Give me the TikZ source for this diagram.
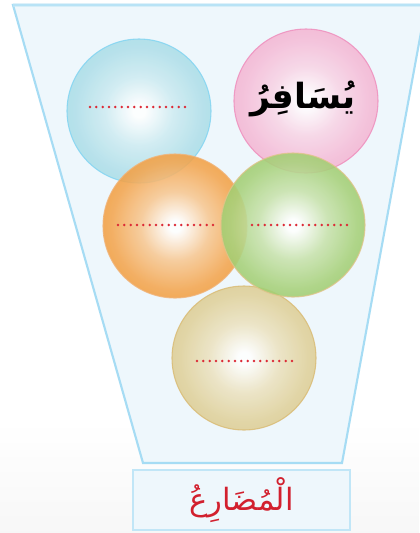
\documentclass[tikz,border=0pt]{standalone}
\usepackage{fontspec}
\newfontfamily\arabicfont[Script=Arabic]{DejaVu Sans}
\TeXXeTstate=1
\definecolor{ballc}{HTML}{A8DCE6}
\pgfdeclareradialshading[ballc]{ball}{\pgfpoint{0bp}{0bp}}{color(0bp)=(white); color(2bp)=(white); color(12bp)=(ballc!55!white); color(22bp)=(ballc!88!white); color(28bp)=(ballc); color(100bp)=(ballc)}
\definecolor{funfill}{HTML}{EEF7FC}
\definecolor{funedge}{HTML}{A6DCF4}
\definecolor{dotred}{HTML}{DC2A36}
\definecolor{labred}{HTML}{D2202E}
\tikzset{
  ball/.style 2 args={circle, minimum size=108pt, inner sep=0pt,
    /utils/exec={\definecolor{ballc}{HTML}{#1}\definecolor{ballo}{HTML}{#2}}, shading=ball, shade,
    fill opacity=0.88, draw=ballo, line width=0.8pt, draw opacity=0.8, text opacity=1},
  dotline/.style={draw=dotred, line width=2.1pt, line cap=round, dash pattern=on 0pt off 4.75pt},
  funnel/.style={fill=funfill, draw=funedge, line width=1.6pt},
  labelbox/.style={fill=funfill, draw=funedge!70, line width=1.4pt, minimum width=162.75pt, minimum height=45pt, inner sep=0pt}
}
\begin{document}
\begin{tikzpicture}[x=0.75pt, y=-0.75pt]
\useasboundingbox (0,0) rectangle (419,533);
\fill[white] (0,0) rectangle (419,533);
\shade[top color=white, bottom color=black!3] (0,420) rectangle (419,533);
% funnel
\path[funnel] (13,5) -- (426,5) -- (342,463) -- (143,463) -- cycle;
\draw[funedge!60, line width=3pt, opacity=0.5] (13,5) -- (426,5);
% circles
\node[ball={DCCB8E}{D9BA72}] (beige) at (244,358) {};
\node[ball={A6DBE6}{7FD4F2}] (blue) at (139,111) {};
\node[ball={F3B2D1}{EE8BBB}] (pink) at (306,101) {};
\node[ball={F29A38}{F0B47A}] (orange) at (175,226) {};
\node[ball={9CCB69}{E0C48A}] (green) at (293,225) {};
% dotted lines
\path[dotline] (90,107) -- (186,107);
\path[dotline] (118,225) -- (214,225);
\path[dotline] (252,225) -- (348,225);
\path[dotline] (197,361) -- (293,361);
% word in pink circle
\node[text=black, font=\arabicfont\bfseries\fontsize{26}{30}\selectfont] (word) at (303,99) {\beginR يُسَافِرُ\endR};
% label box
\node[labelbox, text=labred, font=\arabicfont\fontsize{23}{28}\selectfont] (label) at (241.5,500) {\beginR الْمُضَارِعُ\endR};
\end{tikzpicture}
\end{document}
